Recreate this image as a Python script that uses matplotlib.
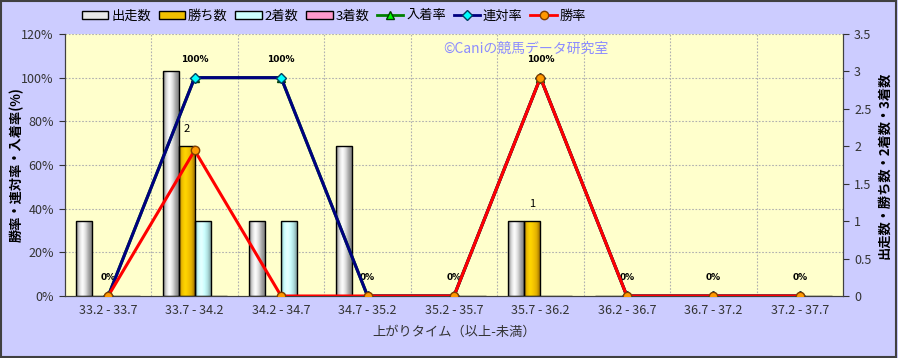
import numpy as np
import matplotlib
matplotlib.use('Agg')
import matplotlib.pyplot as plt
from matplotlib.colors import LinearSegmentedColormap
from matplotlib.patches import Patch, Rectangle
from matplotlib.lines import Line2D
import matplotlib.transforms as mtransforms

plt.rcParams['font.family'] = ['Noto Sans CJK JP', 'DejaVu Sans']

# data
categories = ['33.2 - 33.7', '33.7 - 34.2', '34.2 - 34.7', '34.7 - 35.2', '35.2 - 35.7',
              '35.7 - 36.2', '36.2 - 36.7', '36.7 - 37.2', '37.2 - 37.7']
runs = [1, 3, 1, 2, 0, 1, 0, 0, 0]
wins = [0, 2, 0, 0, 0, 1, 0, 0, 0]
seconds = [0, 1, 1, 0, 0, 0, 0, 0, 0]
thirds = [0, 0, 0, 0, 0, 0, 0, 0, 0]
place_rate = [0, 100, 100, 0, 0, 100, 0, 0, 0]
quinella_rate = [0, 100, 100, 0, 0, 100, 0, 0, 0]
win_rate = [0, 66.7, 0, 0, 0, 100, 0, 0, 0]

fig = plt.figure(figsize=(8.98, 3.58), dpi=100, facecolor='#CCCCFF')
fig.add_artist(Rectangle((0.001, 0.002), 0.997, 0.995, transform=fig.transFigure,
                         fill=False, edgecolor='#404040', lw=1.5))

ax = fig.add_axes([65 / 898, 1 - 296 / 358, 778 / 898, 262 / 358])
ax.set_facecolor('#FFFFCC')
axp = ax.twinx()

x = np.arange(len(categories))
w = 0.185
tc = '#333333'

# gradient colormaps for the cylinder look
cmaps = {
    'run': LinearSegmentedColormap.from_list('r', ['#7a7a7a', '#d8d8d8', '#ffffff', '#e0e0e0', '#a8a8a8', '#808080']),
    'win': LinearSegmentedColormap.from_list('w', ['#b08000', '#f0c000', '#ffd700', '#f5c400', '#e0b000', '#a07000']),
    'sec': LinearSegmentedColormap.from_list('s', ['#80b0b0', '#ccffff', '#e8ffff', '#ccffff', '#b0e0e0', '#80a0a0']),
    'thr': LinearSegmentedColormap.from_list('t', ['#b06080', '#ff99cc', '#ffc0e0', '#ff99cc', '#e080b0', '#a05070']),
}
solid = {'run': '#e8e8e8', 'win': '#f0c000', 'sec': '#ccffff', 'thr': '#ff99cc'}
grad = np.linspace(0, 1, 64).reshape(1, -1)

series = [('run', runs, '出走数'), ('win', wins, '勝ち数'), ('sec', seconds, '2着数'), ('thr', thirds, '3着数')]
for i, (key, vals, lab) in enumerate(series):
    bars = ax.bar(x + (i - 1.5) * w, vals, w, facecolor='none', edgecolor='black', lw=1.0, zorder=3)
    for b in bars:
        if b.get_height() <= 0:
            continue
        bx, by = b.get_x(), b.get_y()
        im = ax.imshow(grad, extent=[bx, bx + b.get_width(), by, by + b.get_height()],
                       aspect='auto', cmap=cmaps[key], zorder=2.5, interpolation='bicubic')
        im.set_clip_path(b)
    if key == 'win':
        for xi, v in zip(x, vals):
            if v > 0:
                ax.annotate(str(v), (xi + (i - 1.5) * w, v), xytext=(0, 9), textcoords='offset points',
                            ha='center', va='bottom', fontsize=8, color='black')

ax.set_xlim(-0.5, len(categories) - 0.5)
ax.set_ylim(0, 3.5)
ax.set_yticks(np.arange(0, 3.51, 0.5))
ax.set_yticklabels(['0', '0.5', '1', '1.5', '2', '2.5', '3', '3.5'])
ax.yaxis.tick_right()
ax.yaxis.set_label_position('right')
ax.set_ylabel('出走数・勝ち数・2着数・3着数', rotation=90, fontsize=9.5, fontweight='bold')
ax.yaxis.set_label_coords(1.044, 0.5)

# lines on percent axis
axp.plot(x, place_rate, color='#008000', lw=2.2, marker='^', markersize=6,
         markerfacecolor='#00ff00', markeredgecolor='#004000', zorder=4)
axp.plot(x, quinella_rate, color='#000080', lw=2.2, marker='D', markersize=5,
         markerfacecolor='#00ffff', markeredgecolor='#004060', zorder=5)
axp.plot(x, win_rate, color='#ff0000', lw=2.2, marker='o', markersize=6,
         markerfacecolor='#ff9900', markeredgecolor='#804000', zorder=6)
for xi, v in zip(x, quinella_rate):
    axp.annotate(f'{v:.0f}%', (xi, v), xytext=(0, 10), textcoords='offset points',
                 ha='center', va='bottom', fontsize=6.5, fontweight='bold', family='DejaVu Sans')

axp.set_ylim(0, 120)
axp.set_yticks(np.arange(0, 121, 20))
axp.set_yticklabels([f'{v}%' for v in range(0, 121, 20)])
axp.yaxis.tick_left()
axp.yaxis.set_label_position('left')
axp.set_ylabel('勝率・連対率・入着率(%)', fontsize=9.5, fontweight='bold')
axp.yaxis.set_label_coords(-0.053, 0.5)

# grid behind bars (percent ticks)
blend = mtransforms.blended_transform_factory(ax.transAxes, axp.transData)
for v in range(20, 121, 20):
    ax.add_artist(Line2D([0, 1], [v, v], transform=blend, color='#b0b0b0', lw=0.8,
                         ls=(0, (1.5, 1.5)), zorder=1))
ax.set_xticks(x)
ax.set_xticklabels(categories)
ax.set_xticks(np.arange(0.5, len(categories) - 0.5, 1), minor=True)
ax.grid(True, which='minor', axis='x', color='#b0b0b0', lw=0.8, ls=(0, (1.5, 1.5)), zorder=1)
ax.tick_params(axis='x', which='both', length=0, colors=tc, labelsize=9, pad=6)
ax.tick_params(axis='y', colors=tc, labelsize=9, direction='out', length=4, pad=4)
axp.tick_params(axis='y', colors=tc, labelsize=9, direction='out', length=4, pad=4)
ax.set_xlabel('上がりタイム（以上-未満）', fontsize=9.5, color=tc, labelpad=6)

for a in (ax, axp):
    a.spines['top'].set_visible(False)
    for s in ('left', 'right', 'bottom'):
        a.spines[s].set_color('#404040')

axp.text(0.592, 0.97, '©Caniの競馬データ研究室', transform=ax.transAxes, ha='center', va='top',
         fontsize=10, color='#8c8cff', zorder=7)

handles = [
    Patch(facecolor=solid['run'], edgecolor='black'),
    Patch(facecolor=solid['win'], edgecolor='black'),
    Patch(facecolor=solid['sec'], edgecolor='black'),
    Patch(facecolor=solid['thr'], edgecolor='black'),
    Line2D([], [], color='#008000', lw=2, marker='^', markersize=6, markerfacecolor='#00ff00', markeredgecolor='#004000'),
    Line2D([], [], color='#000080', lw=2, marker='D', markersize=5, markerfacecolor='#00ffff', markeredgecolor='#004060'),
    Line2D([], [], color='#ff0000', lw=2, marker='o', markersize=6, markerfacecolor='#ff9900', markeredgecolor='#804000'),
]
labels = ['出走数', '勝ち数', '2着数', '3着数', '入着率', '連対率', '勝率']
fig.legend(handles, labels, loc='center left', bbox_to_anchor=(82 / 898, 1 - 16 / 358), ncol=7,
           frameon=False, fontsize=9.5, handlelength=2.0, handleheight=0.6, handletextpad=0.2,
           columnspacing=0.6, borderaxespad=0, borderpad=0)

fig.savefig('out.png', dpi=100, facecolor=fig.get_facecolor())
